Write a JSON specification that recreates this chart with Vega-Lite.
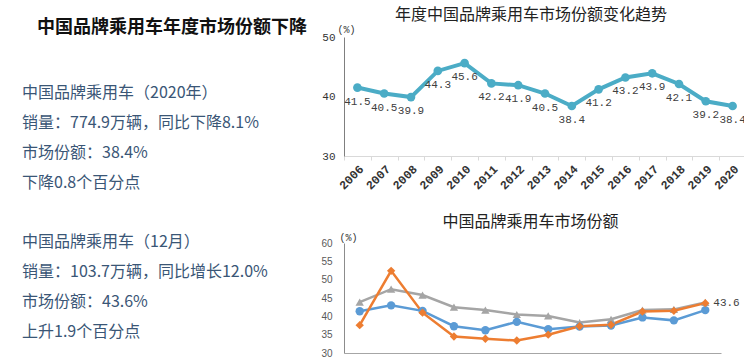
{
  "$schema": "https://vega.github.io/schema/vega-lite/v6.json",
  "padding": {"left": 0, "top": 7, "right": 0, "bottom": 0},
  "background": "white",
  "config": {"view": {"stroke": null}, "font": "Noto Sans CJK SC"},
  "datasets": {
    "notes": [
      {"line": 1, "text": "中国品牌乘用车（2020年）"},
      {"line": 2, "text": "销量：774.9万辆，同比下降8.1%"},
      {"line": 3, "text": "市场份额：38.4%"},
      {"line": 4, "text": "下降0.8个百分点"},
      {"line": 6, "text": "中国品牌乘用车（12月）"},
      {"line": 7, "text": "销量：103.7万辆，同比增长12.0%"},
      {"line": 8, "text": "市场份额：43.6%"},
      {"line": 9, "text": "上升1.9个百分点"}
    ],
    "annual": [
      {"year": 2006, "share": 41.5},
      {"year": 2007, "share": 40.5},
      {"year": 2008, "share": 39.9},
      {"year": 2009, "share": 44.3},
      {"year": 2010, "share": 45.6},
      {"year": 2011, "share": 42.2},
      {"year": 2012, "share": 41.9},
      {"year": 2013, "share": 40.5},
      {"year": 2014, "share": 38.4},
      {"year": 2015, "share": 41.2},
      {"year": 2016, "share": 43.2},
      {"year": 2017, "share": 43.9},
      {"year": 2018, "share": 42.1},
      {"year": 2019, "share": 39.2},
      {"year": 2020, "share": 38.4}
    ],
    "monthly": [
      {"series": "2018年", "month": 1, "share": 43.9},
      {"series": "2018年", "month": 2, "share": 47.4},
      {"series": "2018年", "month": 3, "share": 45.8},
      {"series": "2018年", "month": 4, "share": 42.5},
      {"series": "2018年", "month": 5, "share": 41.7},
      {"series": "2018年", "month": 6, "share": 40.5},
      {"series": "2018年", "month": 7, "share": 40.1},
      {"series": "2018年", "month": 8, "share": 38.3},
      {"series": "2018年", "month": 9, "share": 39.2},
      {"series": "2018年", "month": 10, "share": 41.7},
      {"series": "2018年", "month": 11, "share": 41.9},
      {"series": "2018年", "month": 12, "share": 43.8},
      {"series": "2019年", "month": 1, "share": 41.4},
      {"series": "2019年", "month": 2, "share": 43.0},
      {"series": "2019年", "month": 3, "share": 41.5},
      {"series": "2019年", "month": 4, "share": 37.3},
      {"series": "2019年", "month": 5, "share": 36.2},
      {"series": "2019年", "month": 6, "share": 38.5},
      {"series": "2019年", "month": 7, "share": 36.5},
      {"series": "2019年", "month": 8, "share": 37.2},
      {"series": "2019年", "month": 9, "share": 37.5},
      {"series": "2019年", "month": 10, "share": 39.7},
      {"series": "2019年", "month": 11, "share": 38.9},
      {"series": "2019年", "month": 12, "share": 41.7},
      {"series": "2020年", "month": 1, "share": 37.6},
      {"series": "2020年", "month": 2, "share": 52.4},
      {"series": "2020年", "month": 3, "share": 41.0},
      {"series": "2020年", "month": 4, "share": 34.5},
      {"series": "2020年", "month": 5, "share": 33.9},
      {"series": "2020年", "month": 6, "share": 33.4},
      {"series": "2020年", "month": 7, "share": 35.0},
      {"series": "2020年", "month": 8, "share": 37.3},
      {"series": "2020年", "month": 9, "share": 37.7},
      {"series": "2020年", "month": 10, "share": 41.3},
      {"series": "2020年", "month": 11, "share": 41.5},
      {"series": "2020年", "month": 12, "share": 43.6}
    ]
  },
  "bounds": "flush",
  "spacing": 300,
  "hconcat": [
    {
      "width": 44,
      "height": 299,
      "title": {"text": "中国品牌乘用车年度市场份额下降", "anchor": "start", "dx": 37, "offset": 0, "fontSize": 18, "fontWeight": "bold", "color": "#111111", "font": "Noto Sans CJK SC"},
      "data": {"name": "notes"},
      "mark": {"type": "text", "align": "left", "baseline": "middle", "dy": -4, "fontSize": 16, "color": "#3a5676", "font": "Noto Sans CJK SC"},
      "encoding": {
        "y": {"field": "line", "type": "quantitative", "scale": {"domain": [-1, 9], "reverse": true}, "axis": null},
        "text": {"field": "text", "type": "nominal"}
      }
    },
    {
      "bounds": "flush",
      "spacing": 87,
      "vconcat": [
        {
          "width": 402,
          "height": 119,
          "title": {"text": "年度中国品牌乘用车市场份额变化趋势", "fontSize": 16, "fontWeight": "normal", "offset": 1, "dx": -14, "color": "#222222", "font": "Noto Sans CJK SC"},
          "data": {"name": "annual"},
          "encoding": {
            "x": {"field": "year", "type": "ordinal", "scale": {"type": "band", "paddingInner": 0, "paddingOuter": 0},
              "axis": {"title": null, "labelAngle": -45, "tickBand": "extent", "domainColor": "#d9d9d9", "tickColor": "#d9d9d9", "tickSize": 4, "labelFont": "Liberation Mono", "labelFontSize": 12, "labelFontWeight": "bold", "labelColor": "#333333", "labelPadding": 3}},
            "y": {"field": "share", "type": "quantitative", "scale": {"domain": [30, 50]},
              "axis": {"values": [30, 40, 50], "grid": false, "ticks": false, "labelPadding": 9, "domainColor": "#7f7f7f", "labelFont": "Liberation Mono", "labelFontSize": 11, "labelColor": "#333333", "title": "(%)", "titleAngle": 0, "titleX": -7, "titleY": -8, "titleAlign": "left", "titleBaseline": "middle", "titleFont": "Liberation Mono", "titleFontSize": 10, "titleFontWeight": "normal", "titleColor": "#333333"}}
          },
          "layer": [
            {"mark": {"type": "line", "color": "#4bacc6", "strokeWidth": 4}},
            {"mark": {"type": "point", "shape": "circle", "filled": true, "size": 75, "color": "#4bacc6", "opacity": 1}},
            {"mark": {"type": "text", "dy": 14, "font": "Liberation Mono", "fontSize": 11, "color": "#404040"},
              "encoding": {"text": {"field": "share", "type": "quantitative", "format": ".1f"}}}
          ]
        },
        {
          "width": 377,
          "height": 110,
          "title": {"text": "中国品牌乘用车市场份额", "fontSize": 16, "fontWeight": "normal", "offset": 2, "dx": -2, "color": "#222222", "font": "Noto Sans CJK SC"},
          "data": {"name": "monthly"},
          "encoding": {
            "x": {"field": "month", "type": "ordinal", "scale": {"type": "band", "paddingInner": 0, "paddingOuter": 0},
              "axis": {"title": null, "labels": false, "ticks": false, "domainColor": "#a6a6a6"}},
            "y": {"field": "share", "type": "quantitative", "scale": {"domain": [30, 60]},
              "axis": {"values": [30, 35, 40, 45, 50, 55, 60], "grid": false, "ticks": false, "labelPadding": 12, "domainColor": "#8c8c8c", "labelFont": "Liberation Sans", "labelFontSize": 10, "labelColor": "#595959", "title": "(%)", "titleAngle": 0, "titleX": -5, "titleY": -6, "titleAlign": "left", "titleBaseline": "middle", "titleFont": "Liberation Mono", "titleFontSize": 10, "titleFontWeight": "normal", "titleColor": "#333333"}},
            "color": {"field": "series", "type": "nominal", "scale": {"domain": ["2018年", "2019年", "2020年"], "range": ["#a5a5a5", "#5b9bd5", "#ed7d31"]}, "legend": null}
          },
          "layer": [
            {"mark": {"type": "line", "strokeWidth": 2.5}},
            {"mark": {"type": "point", "filled": true, "size": 70, "opacity": 1},
              "encoding": {"shape": {"field": "series", "type": "nominal", "scale": {"domain": ["2018年", "2019年", "2020年"], "range": ["triangle-up", "circle", "diamond"]}, "legend": null}}},
            {"transform": [{"filter": {"and": [{"field": "series", "equal": "2020年"}, {"field": "month", "equal": 12}]}}],
              "mark": {"type": "text", "align": "left", "dx": 8, "font": "Liberation Mono", "fontSize": 11},
              "encoding": {"text": {"field": "share", "type": "quantitative", "format": ".1f"}, "color": {"value": "#404040"}}}
          ]
        }
      ]
    }
  ]
}
